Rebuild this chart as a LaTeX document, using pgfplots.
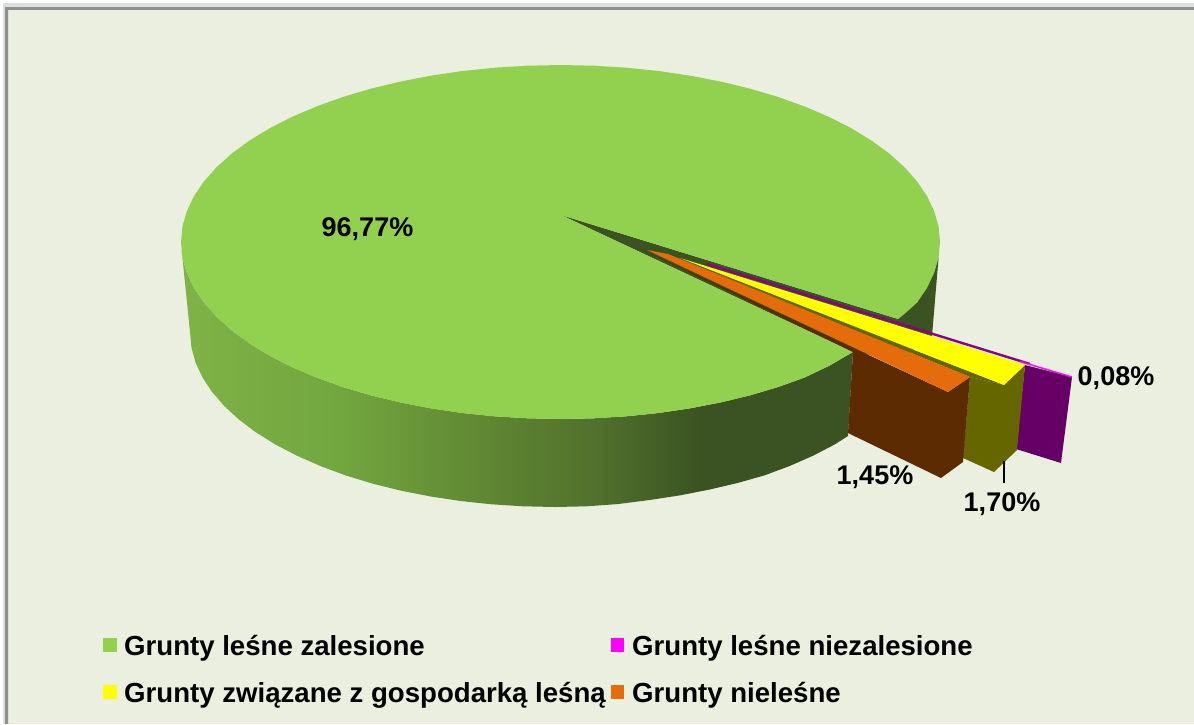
\documentclass[border=0pt]{standalone}
\usepackage{fontspec}
\setmainfont{Liberation Sans}
\usepackage{pgfplots}
\pgfplotsset{compat=1.18}
\definecolor{bgc}{HTML}{EBEFDF}
\definecolor{frm}{HTML}{8F8F8F}
\definecolor{shd}{HTML}{DEDEDE}
\definecolor{grn}{HTML}{92D050}
\definecolor{dgr}{HTML}{3B5322}
\definecolor{pur}{HTML}{660066}
\definecolor{pu2}{HTML}{8A008A}
\definecolor{mag}{HTML}{FF00FF}
\definecolor{oli}{HTML}{666600}
\definecolor{yel}{HTML}{FFFF00}
\definecolor{bro}{HTML}{5C2B02}
\definecolor{ora}{HTML}{E46C0A}
\pgfdeclarehorizontalshading{wall}{100bp}{rgb(0bp)=(.498,.702,.278); rgb(25bp)=(.498,.702,.278); rgb(36.8bp)=(.447,.651,.247); rgb(48.7bp)=(.369,.518,.196); rgb(56.2bp)=(.314,.439,.173); rgb(63.6bp)=(.231,.325,.133); rgb(100bp)=(.231,.325,.133)}
\newcommand{\lab}[1]{\fontsize{27}{27}\selectfont\bfseries #1}
\newcommand{\leg}[1]{\fontsize{27.6}{27.6}\selectfont\bfseries #1}
\begin{document}
\begin{tikzpicture}
\begin{axis}[scale only axis,width=1194pt,height=724pt,xmin=0,xmax=1194,ymin=0,ymax=724,y dir=reverse,hide axis,no markers]
% background and frame
\addplot[fill=white,draw=none] coordinates {(0,0)(1194,0)(1194,724)(0,724)} --cycle;
\addplot[fill=bgc,draw=none] coordinates {(7,8)(1194,8)(1194,724)(7,724)} --cycle;
\addplot[draw=shd,line width=6pt] coordinates {(5.5,724)(5.5,6)(1194,6)};
\addplot[draw=frm,line width=3pt] coordinates {(6.5,724)(6.5,8)(1194,8)};
% side wall of the big slice
\addplot[shade,shading=wall,draw=none] coordinates {
(181.5,250)(182.4,257.4)(186.8,272.7)(193.9,287.8)(203.9,302.5)(216.6,316.8)(231.8,330.5)(249.6,343.5)(269.8,355.8)(292.2,367.2)(316.6,377.6)(342.8,387)(370.7,395.3)(400.1,402.4)(430.7,408.3)(462.3,413)(494.6,416.3)(527.4,418.3)(560.5,419)(593.6,418.3)(626.4,416.3)(658.7,413)(690.3,408.3)(720.9,402.4)(750.3,395.3)(778.2,387)(804.4,377.6)(828.8,366)(853,352)
(848,436)(834.6,444.5)(813.1,455.7)(789.6,466)(764.4,475.4)(737.5,483)(709.3,489.6)(679.8,495.4)(649.5,500)(618.4,504)(586.8,506.3)(555,507)(523.2,506.3)(491.6,504.3)(460.5,501)(430.2,496.4)(400.7,490.6)(372.5,483.6)(345.6,475.4)(320.4,466)(296.9,455.7)(275.4,444.5)(256,432.4)(238.9,419.5)(224.2,406)(212,391.9)(202.4,377.3)(195.5,362.4)(191.4,347.3)(190,332)(183,263)} --cycle;
% inner wall, dark
\addplot[fill=dgr,draw=none] coordinates {(561,215)(898,319)(910,307)(923,290)(934,272)(938.6,257.4)(932,336)(900,360)(853,352)} --cycle;
% top of the big slice
\addplot[fill=grn,draw=none] coordinates {
(561,215)(898,319)(904.4,314)(917.1,302.5)(927.1,287.8)(934.2,272.7)(938.6,257.4)(940,242)
(938.6,226.6)(934.2,211.3)(927.1,196.2)(917.1,181.5)(904.4,167.2)(889.2,153.5)(871.4,140.5)(851.2,128.2)(828.8,116.8)(804.4,106.4)(778.2,97)(750.3,88.7)(720.9,81.6)(690.3,75.7)(658.7,71)(626.4,67.7)(593.6,65.7)(560.5,65)
(527.4,65.7)(494.6,67.7)(462.3,71)(430.7,75.7)(400.1,81.6)(370.7,88.7)(342.8,97)(316.6,106.4)(292.2,116.8)(269.8,128.2)(249.6,140.5)(231.8,153.5)(216.6,167.2)(203.9,181.5)(193.9,196.2)(186.8,211.3)(182.4,226.6)(181,242)
(182.4,257.4)(186.8,272.7)(193.9,287.8)(203.9,302.5)(216.6,316.8)(231.8,330.5)(249.6,343.5)(269.8,355.8)(292.2,367.2)(316.6,377.6)(342.8,387)(370.7,395.3)(400.1,402.4)(430.7,408.3)(462.3,413)(494.6,416.3)(527.4,418.3)(560.5,419)
(593.6,418.3)(626.4,416.3)(658.7,413)(690.3,408.3)(720.9,402.4)(750.3,395.3)(778.2,387)(804.4,377.6)(828.8,366)(853,352)} --cycle;
% purple slice
\addplot[fill=pur,draw=none] coordinates {(1025,365)(1072,377)(1061,463)(1016,449)} --cycle;
\addplot[draw=pu2,line width=2.4pt] coordinates {(707,264)(1030,364)};
\addplot[draw=mag,line width=1.4pt] coordinates {(1020,361.5)(1072,377)};
% olive slice
\addplot[fill=oli,draw=none] coordinates {(668,254)(1004,385)(970,377)} --cycle;
\addplot[fill=oli,draw=none] coordinates {(970,377)(1004,385)(1025,365)(1017,450)(994,472)(963,458)} --cycle;
\addplot[fill=yel,draw=none] coordinates {(680,258)(1025,365)(1004,385)} --cycle;
% leader
\addplot[draw=black,line width=1.8pt] coordinates {(1004,461)(1004,483)};
% brown slice
\addplot[fill=bro,draw=none] coordinates {(639,248)(853,352)(848,433)(941,478)(963,462)(970,377)(948,392)} --cycle;
\addplot[fill=ora,draw=none] coordinates {(647,250)(668,254)(970,377)(948,392)} --cycle;
% legend keys
\addplot[fill=grn,draw=none] coordinates {(103,638)(117,638)(117,652)(103,652)} --cycle;
\addplot[fill=mag,draw=none] coordinates {(611,638)(624,638)(624,652)(611,652)} --cycle;
\addplot[fill=yel,draw=none] coordinates {(103,685)(117,685)(117,699)(103,699)} --cycle;
\addplot[fill=ora,draw=none] coordinates {(611,685)(624,685)(624,699)(611,699)} --cycle;
% texts
\node[anchor=center,inner sep=0pt] at (axis cs:367.5,229.5) {\lab{96,77\%}};
\node[anchor=center,inner sep=0pt] at (axis cs:875,477) {\lab{1,45\%}};
\node[anchor=center,inner sep=0pt] at (axis cs:1002,504) {\lab{1,70\%}};
\node[anchor=center,inner sep=0pt] at (axis cs:1116,378.5) {\lab{0,08\%}};
\node[anchor=base west,inner sep=0pt] at (axis cs:124,655) {\leg{Grunty leśne zalesione}};
\node[anchor=base west,inner sep=0pt] at (axis cs:632,655) {\leg{Grunty leśne niezalesione}};
\node[anchor=base west,inner sep=0pt] at (axis cs:124,702) {\leg{Grunty związane z gospodarką leśną}};
\node[anchor=base west,inner sep=0pt] at (axis cs:632,702) {\leg{Grunty nieleśne}};
\end{axis}
\end{tikzpicture}
\end{document}
